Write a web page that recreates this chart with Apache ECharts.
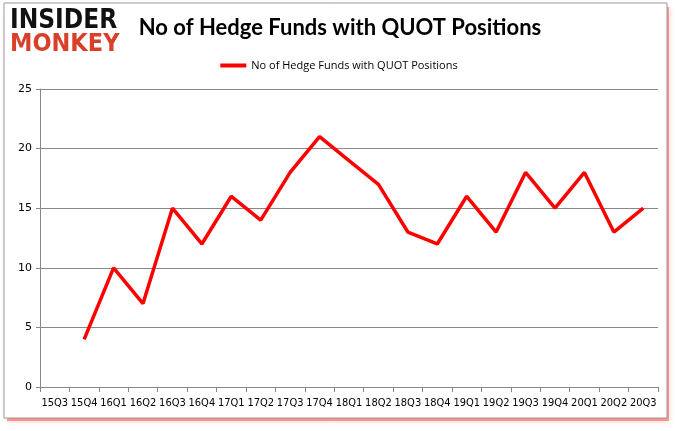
<!DOCTYPE html>
<html><head><meta charset="utf-8">
<script src="https://cdn.jsdelivr.net/npm/echarts@6/dist/echarts.min.js"></script>
<style>html,body{margin:0;padding:0;background:#fff;}#c{width:678px;height:431px;}</style>
</head><body><div id="c"></div>
<script>
const categories = ['15Q3','15Q4','16Q1','16Q2','16Q3','16Q4','17Q1','17Q2','17Q3','17Q4','18Q1','18Q2','18Q3','18Q4','19Q1','19Q2','19Q3','19Q4','20Q1','20Q2','20Q3'];
const fundCounts = [null,4,10,7,15,12,16,14,18,21,19,17,13,12,16,13,18,15,18,13,15];
const seriesName = 'No of Hedge Funds with QUOT Positions';
const titleText = 'No of Hedge Funds with QUOT Positions';

const chart = echarts.init(document.getElementById('c'));
chart.setOption({
  animation: false,
  backgroundColor: '#fff',
  graphic: [
    {type:'rect', z:-10, shape:{x:7,y:7,width:662,height:414}, style:{fill:'#ff0000', opacity:0.35, shadowBlur:6, shadowColor:'rgba(255,0,0,0.6)'}},
    {type:'rect', z:-9, shape:{x:4,y:3,width:663,height:415}, style:{fill:'#fff', stroke:'#999', lineWidth:1}},
    {type:'text', left:10, top:8, style:{text:'INSIDER', font:'900 26px "DejaVu Sans Condensed", "DejaVu Sans", sans-serif', fill:'#111'}},
    {type:'text', left:10, top:32, style:{text:'MONKEY', font:'900 25px "DejaVu Sans Condensed", "DejaVu Sans", sans-serif', fill:'#d8402a'}}
  ],
  title: {
    text: titleText, left: 335, top: 12, textAlign: 'center',
    textStyle: {fontFamily:'Lato, sans-serif', fontWeight:'bold', fontSize:22, color:'#000'}
  },
  legend: {
    top: 55, left: 'center', itemWidth: 26, itemHeight: 4, itemGap: 4,
    icon: 'rect',
    textStyle: {fontFamily:'"Open Sans", sans-serif', fontSize:11, color:'#000'},
    data: [seriesName]
  },
  grid: {left: 40, right: 20, top: 89, bottom: 44},
  xAxis: {
    type: 'category', data: categories, boundaryGap: true,
    axisLine: {lineStyle:{color:'#888'}},
    axisTick: {show:true, lineStyle:{color:'#888'}, length:5},
    axisLabel: {interval:0, color:'#000', fontSize:11, fontFamily:'"DejaVu Sans Condensed", sans-serif', margin:11}
  },
  yAxis: {
    type: 'value', min: 0, max: 25, interval: 5,
    axisLine: {show:true, lineStyle:{color:'#888'}},
    axisTick: {show:true, length:4, lineStyle:{color:'#888'}},
    splitLine: {lineStyle:{color:'#888'}},
    axisLabel: {color:'#000', fontSize:11, fontFamily:'"DejaVu Sans", sans-serif', margin:8}
  },
  series: [{
    name: seriesName, type: 'line', data: fundCounts,
    showSymbol: false, symbol: 'none',
    lineStyle: {color:'#ff0000', width:3.5},
    itemStyle: {color:'#ff0000'}
  }]
});
</script></body></html>
